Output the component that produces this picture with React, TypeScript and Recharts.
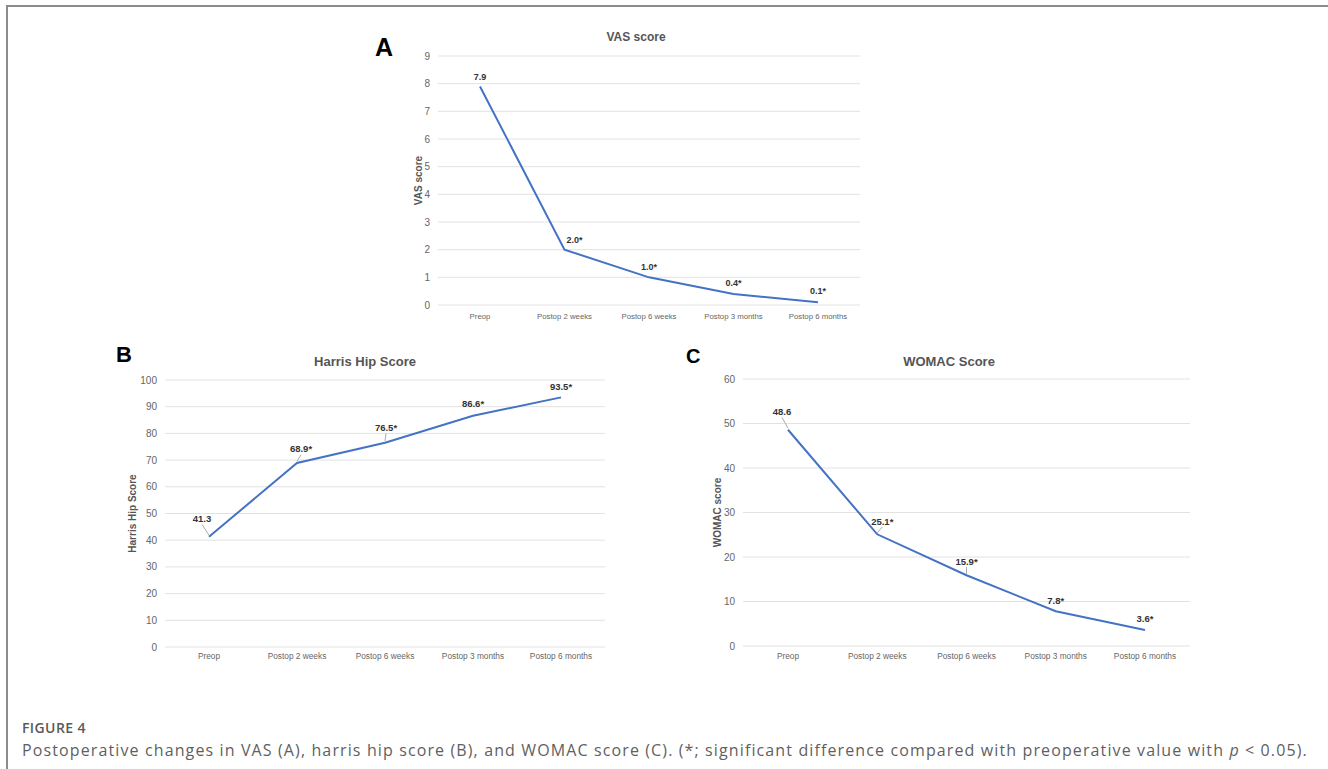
import React from 'react';
import { LineChart, Line, XAxis, YAxis, CartesianGrid, LabelList } from 'recharts';

const categories = ['Preop', 'Postop 2 weeks', 'Postop 6 weeks', 'Postop 3 months', 'Postop 6 months'];

const vasValues = [7.9, 2.0, 1.0, 0.4, 0.1];
const harrisValues = [41.3, 68.9, 76.5, 86.6, 93.5];
const womacValues = [48.6, 25.1, 15.9, 7.8, 3.6];

// * = significant vs preop
const significant = [false, true, true, true, true];

const vasTicks = [0, 1, 2, 3, 4, 5, 6, 7, 8, 9];
const harrisTicks = [0, 10, 20, 30, 40, 50, 60, 70, 80, 90, 100];
const womacTicks = [0, 10, 20, 30, 40, 50, 60];

// label placement relative to each point [dx, dy, leader line]
const vasLabelPos: [number, number, boolean][] = [[0, -10, false], [10, -10, false], [0, -10, false], [0, -11, false], [0, -11, false]];
const harrisLabelPos: [number, number, boolean][] = [[-7, -18, true], [4, -14, true], [1, -15, true], [0, -12, false], [0, -11, false]];
const womacLabelPos: [number, number, boolean][] = [[-6, -18, true], [5, -13, true], [0, -14, true], [0, -11, false], [0, -11, false]];

const FONT = '"Liberation Sans", Arial, Helvetica, sans-serif';
const LINE_COLOR = '#4472C4';

const toRows = (values: number[]) =>
  categories.map((name, i) => ({ name, value: values[i], label: values[i].toFixed(1) + (significant[i] ? '*' : '') }));

function makeLabel(pos: [number, number, boolean][], rows: { label: string }[], fontSize: number) {
  return (props: any) => {
    const x = props.x ?? props.viewBox?.x;
    const y = props.y ?? props.viewBox?.y;
    const index = props.index ?? 0;
    const [dx, dy, leader] = pos[index];
    const lx = x + dx;
    const ly = y + dy;
    return (
      <g>
        {leader && (
          <line x1={lx} y1={ly + fontSize * 0.6} x2={x} y2={y - 1.5} stroke="#aaaaaa" strokeWidth={1} />
        )}
        <text x={lx} y={ly} dy="0.35em" textAnchor="middle" fontFamily={FONT} fontSize={fontSize} fontWeight="bold" fill="#333333">
          {rows[index].label}
        </text>
      </g>
    );
  };
}

function yLabel(text: string, offsetX: number) {
  return (props: any) => {
    const vb = props.viewBox;
    const cx = vb.x + offsetX;
    const cy = vb.y + vb.height / 2;
    return (
      <text x={cx} y={cy} dy="0.35em" textAnchor="middle" transform={`rotate(-90 ${cx} ${cy})`} fontFamily={FONT} fontSize={10} fontWeight="bold" fill="#555555">
        {text}
      </text>
    );
  };
}

interface PanelProps {
  left: number;
  top: number;
  width: number;
  height: number;
  values: number[];
  ticks: number[];
  labelPos: [number, number, boolean][];
  yLabelText: string;
  yAxisWidth: number;
  yLabelOffset: number;
  xAxisHeight: number;
  marginTop: number;
  marginRight: number;
  pad: number;
  xFont: number;
  yFont: number;
  labelFont: number;
  xTickSize: number;
}

function Panel(p: PanelProps) {
  const rows = toRows(p.values);
  return (
    <div style={{ position: 'absolute', left: p.left, top: p.top }}>
      <LineChart width={p.width} height={p.height} data={rows} margin={{ top: p.marginTop, right: p.marginRight, bottom: 0, left: 0 }}>
        <CartesianGrid vertical={false} stroke="#e2e2e2" />
        <XAxis
          dataKey="name"
          axisLine={false}
          tickLine={false}
          height={p.xAxisHeight}
          padding={{ left: p.pad, right: p.pad }}
          tickSize={p.xTickSize}
          interval={0}
          tick={{ fontSize: p.xFont, fill: '#666666', fontFamily: FONT }}
        />
        <YAxis
          width={p.yAxisWidth}
          domain={[p.ticks[0], p.ticks[p.ticks.length - 1]]}
          ticks={p.ticks}
          axisLine={false}
          tickLine={false}
          tick={{ fontSize: p.yFont, fill: '#666666', fontFamily: FONT }}
          label={yLabel(p.yLabelText, p.yLabelOffset)}
        />
        <Line type="linear" dataKey="value" stroke={LINE_COLOR} strokeWidth={2} dot={false} activeDot={false} isAnimationActive={false}>
          <LabelList dataKey="value" content={makeLabel(p.labelPos, rows, p.labelFont)} />
        </Line>
      </LineChart>
    </div>
  );
}

const abs = (left: number, top: number, extra: React.CSSProperties = {}): React.CSSProperties => ({
  position: 'absolute',
  left,
  top,
  ...extra,
});

export default function App() {
  return (
    <div style={{ position: 'absolute', left: 0, top: 0, width: 1328, height: 769, background: '#ffffff', overflow: 'hidden' }}>
      {/* figure frame */}
      <div style={abs(6, 5, { width: 1330, height: 780, borderTop: '2px solid #8c8c8c', borderLeft: '2px solid #8c8c8c' })} />

      {/* panel letters */}
      <div style={abs(375, 33, { fontFamily: FONT, fontWeight: 'bold', fontSize: 25, lineHeight: '29px', color: '#000' })}>A</div>
      <div style={abs(116, 342, { fontFamily: FONT, fontWeight: 'bold', fontSize: 22, lineHeight: '25px', color: '#000' })}>B</div>
      <div style={abs(686, 345, { fontFamily: FONT, fontWeight: 'bold', fontSize: 20, lineHeight: '23px', color: '#000' })}>C</div>

      {/* titles */}
      <div style={abs(536, 30, { width: 200, textAlign: 'center', fontFamily: FONT, fontWeight: 'bold', fontSize: 12, lineHeight: '14px', color: '#555' })}>VAS score</div>
      <div style={abs(265, 354, { width: 200, textAlign: 'center', fontFamily: FONT, fontWeight: 'bold', fontSize: 13, lineHeight: '15px', color: '#555' })}>Harris Hip Score</div>
      <div style={abs(849, 354, { width: 200, textAlign: 'center', fontFamily: FONT, fontWeight: 'bold', fontSize: 13, lineHeight: '15px', color: '#555' })}>WOMAC Score</div>

      <Panel
        left={360} top={20} width={520} height={310}
        values={vasValues} ticks={vasTicks} labelPos={vasLabelPos}
        yLabelText="VAS score" yAxisWidth={78} yLabelOffset={58}
        xAxisHeight={25} marginTop={36} marginRight={20} pad={42}
        xFont={7.8} yFont={10} labelFont={9} xTickSize={6}
      />
      <Panel
        left={100} top={340} width={520} height={330}
        values={harrisValues} ticks={harrisTicks} labelPos={harrisLabelPos}
        yLabelText="Harris Hip Score" yAxisWidth={65} yLabelOffset={32}
        xAxisHeight={23} marginTop={40} marginRight={15} pad={44}
        xFont={8.3} yFont={10} labelFont={9.5} xTickSize={4}
      />
      <Panel
        left={680} top={340} width={530} height={330}
        values={womacValues} ticks={womacTicks} labelPos={womacLabelPos}
        yLabelText="WOMAC score" yAxisWidth={63} yLabelOffset={37}
        xAxisHeight={24} marginTop={39} marginRight={20} pad={45}
        xFont={8.3} yFont={10} labelFont={9.5} xTickSize={5}
      />

      {/* caption */}
      <div style={abs(22, 718, { fontFamily: '"Open Sans", sans-serif', fontWeight: 600, fontSize: 14, lineHeight: '19px', letterSpacing: '0.4px', color: '#5a5a5a' })}>FIGURE 4</div>
      <div style={abs(22, 739, { fontFamily: '"Open Sans", sans-serif', fontSize: 16, lineHeight: '22px', letterSpacing: '1.12px', color: '#5f5f5f', whiteSpace: 'nowrap' })}>
        Postoperative changes in VAS (A), harris hip score (B), and WOMAC score (C). (*; significant difference compared with preoperative value with <i>p</i>{' '}&lt;{' '}0.05).
      </div>
    </div>
  );
}
